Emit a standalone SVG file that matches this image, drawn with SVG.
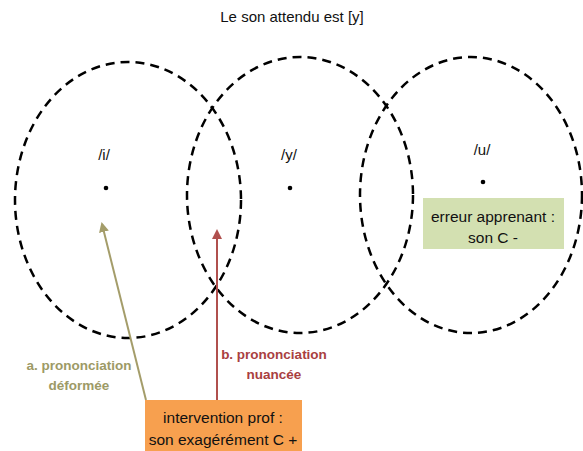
<svg xmlns="http://www.w3.org/2000/svg" width="583" height="451" viewBox="0 0 583 451">
<style>
.t{font-family:"Liberation Sans","DejaVu Sans",sans-serif;font-size:15px;fill:#111;text-anchor:middle}
.b{font-size:15.5px}
.e{fill:none;stroke:#000;stroke-width:2.5;stroke-dasharray:9 6}
.lbl{font-family:"Liberation Sans","DejaVu Sans",sans-serif;font-size:13.5px;font-weight:bold;text-anchor:middle}
</style>
<defs>
<marker id="ha" viewBox="0 0 10 10" refX="8" refY="5" markerWidth="5" markerHeight="5" orient="auto"><path d="M0,0 L10,5 L0,10 z" fill="#a49d6a"/></marker>
<marker id="hb" viewBox="0 0 10 10" refX="8" refY="5" markerWidth="5" markerHeight="5" orient="auto"><path d="M0,0 L10,5 L0,10 z" fill="#b0504e"/></marker>
</defs>
<rect width="583" height="451" fill="#fff"/>
<text class="t" x="292" y="22">Le son attendu est [y]</text>
<g id="zone-i">
<ellipse class="e" cx="128" cy="200" rx="113" ry="138"/>
<text class="t" x="104" y="160">/i/</text>
<circle cx="106" cy="188" r="2.3" fill="#000"/>
</g>
<g id="zone-y">
<ellipse class="e" cx="300" cy="195" rx="113" ry="138"/>
<text class="t" x="289" y="160">/y/</text>
<circle cx="290" cy="188" r="2.3" fill="#000"/>
</g>
<g id="zone-u">
<ellipse class="e" cx="471" cy="195" rx="111" ry="138"/>
<text class="t" x="482" y="155">/u/</text>
<circle cx="483" cy="182" r="2.3" fill="#000"/>
</g>
<g id="connectors">
<line x1="146" y1="400" x2="102" y2="224" stroke="#a49d6a" stroke-width="2" marker-end="url(#ha)"/>
<line x1="217" y1="400" x2="217" y2="231" stroke="#b0504e" stroke-width="2" marker-end="url(#hb)"/>
<text class="lbl" x="79" y="370" fill="#9d9a66">a. prononciation</text>
<text class="lbl" x="79" y="390" fill="#9d9a66">déformée</text>
<text class="lbl" x="274" y="359" fill="#a9403f">b. prononciation</text>
<text class="lbl" x="274" y="379" fill="#a9403f">nuancée</text>
</g>
<g id="erreur">
<rect x="423" y="198" width="141" height="51" fill="#d3e0b1"/>
<text class="t b" x="493" y="222">erreur apprenant :</text>
<text class="t b" x="493" y="243">son C -</text>
</g>
<g id="intervention">
<rect x="145" y="400" width="157" height="51" fill="#f7a04f"/>
<text class="t b" x="223" y="423">intervention prof :</text>
<text class="t b" x="223" y="445">son exagérément C +</text>
</g>
</svg>
